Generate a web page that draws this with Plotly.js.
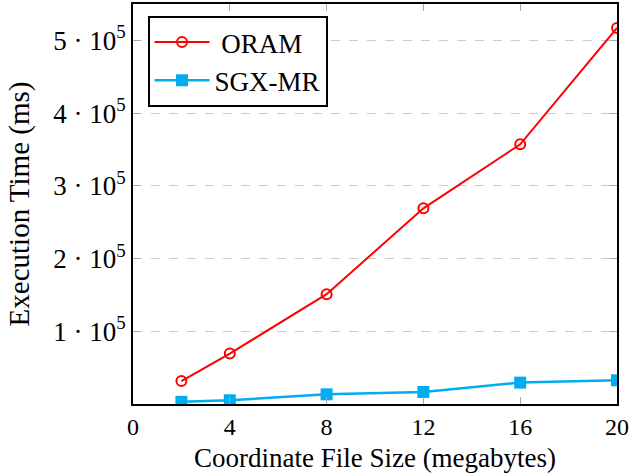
<!DOCTYPE html>
<html>
<head>
<meta charset="utf-8">
<script src="https://cdn.plot.ly/plotly-3.0.1.min.js"></script>
<style>html,body{margin:0;padding:0;background:#fff;}#chart{width:631px;height:475px;}</style>
</head>
<body>
<div id="chart"></div>
<script>
const fileSizes = [2, 4, 8, 12, 16, 20];
const oramTimes = [31600, 69300, 151000, 269000, 357000, 517000];
const sgxTimes = [3000, 5100, 13300, 16500, 29400, 32600];
const xTicks = [0, 4, 8, 12, 16, 20];
const yTickVals = [100000, 200000, 300000, 400000, 500000];
const yTickText = ['1 · 10<sup>5</sup>', '2 · 10<sup>5</sup>', '3 · 10<sup>5</sup>', '4 · 10<sup>5</sup>', '5 · 10<sup>5</sup>'];
const seriesNames = [' ORAM', 'SGX-MR'];

const font = 'Liberation Serif, Times New Roman, serif';
const traces = [
  {x: fileSizes, y: oramTimes, name: seriesNames[0], mode: 'lines+markers',
   line: {color: '#ff0000', width: 2},
   marker: {symbol: 'circle-open', size: 10, color: '#ff0000', line: {width: 2, color: '#ff0000'}}},
  {x: fileSizes, y: sgxTimes, name: seriesNames[1], mode: 'lines+markers',
   line: {color: '#00aeef', width: 2.5},
   marker: {symbol: 'square', size: 12, color: '#00aeef'}}
];
const layout = {
  width: 631, height: 475,
  margin: {l: 133, r: 14, t: 4, b: 71},
  paper_bgcolor: '#fff', plot_bgcolor: '#fff',
  font: {family: font, color: '#000', size: 24},
  showlegend: true,
  legend: {x: 0.03, y: 0.97, xanchor: 'left', yanchor: 'top', bgcolor: '#fff',
           bordercolor: '#000', borderwidth: 2, font: {size: 27, family: font}, itemwidth: 55,
           tracegroupgap: 0},
  xaxis: {range: [0, 20], tickvals: xTicks, ticks: 'inside', ticklen: 7, tickcolor: '#aaa',
          showline: true, linecolor: '#000', linewidth: 2, mirror: 'ticks', showgrid: false, zeroline: false,
          tickfont: {size: 24, family: font},
          title: {text: 'Coordinate File Size (megabytes)', font: {size: 27, family: font}, standoff: 9}},
  yaxis: {range: [0, 550000], tickvals: yTickVals, ticktext: yTickText, ticks: 'inside', ticklen: 7, tickcolor: '#aaa',
          showline: true, linecolor: '#000', linewidth: 2, mirror: 'ticks', showgrid: true,
          gridcolor: '#cccccc', griddash: 'dash', gridwidth: 1, zeroline: false,
          tickfont: {size: 27, family: font},
          title: {text: 'Execution Time (ms)', font: {size: 29, family: font}, standoff: 15}}
};
Plotly.newPlot('chart', traces, layout, {displayModeBar: false, staticPlot: true});
</script>
</body>
</html>
